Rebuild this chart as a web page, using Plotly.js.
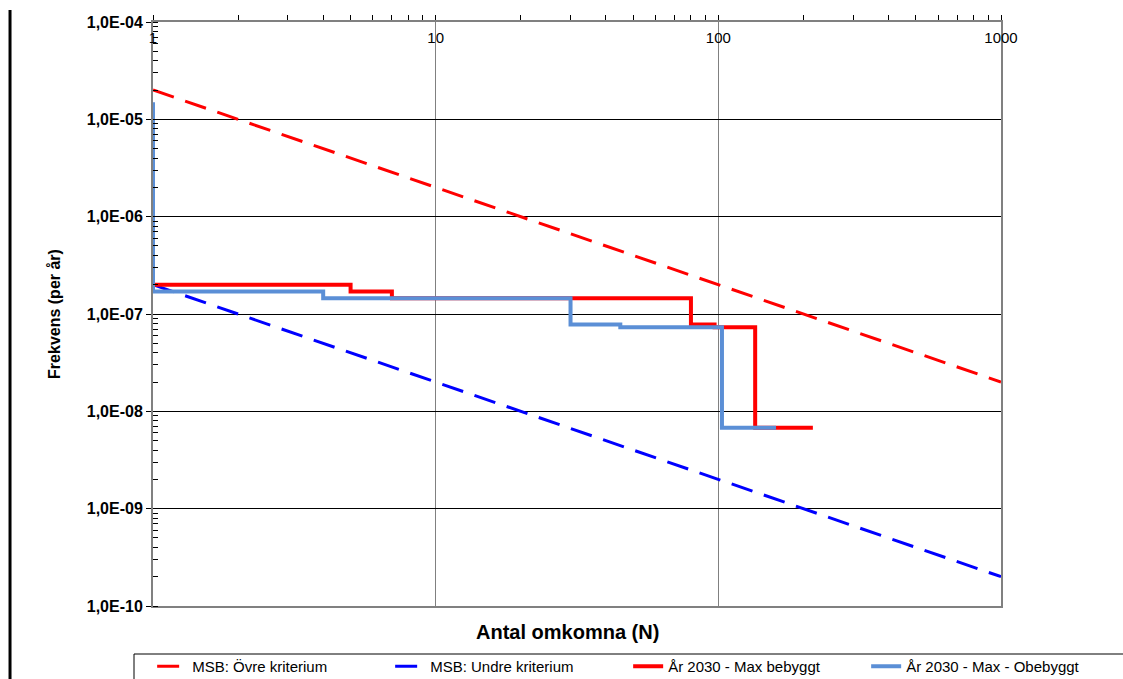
<!DOCTYPE html>
<html>
<head>
<meta charset="utf-8">
<script src="https://cdn.plot.ly/plotly-3.0.1.min.js"></script>
<style>html,body{margin:0;padding:0;background:#fff;}#chart{width:1123px;height:679px;}</style>
</head>
<body>
<div id="chart"></div>
<script>
// Criteria lines (MSB)
const critN = [1, 1000];
const upperF = [2e-5, 2e-8];
const lowerF = [2e-7, 2e-10];

// År 2030 - Max bebyggt (step)
const bebN = [1, 5, 7, 80, 97, 135, 216];
const bebF = [2.0e-7, 1.7e-7, 1.45e-7, 7.8e-8, 7.3e-8, 6.8e-9, 6.8e-9];

// År 2030 - Max - Obebyggt (step)
const obeN = [1, 1, 4, 30, 45, 103, 160];
const obeF = [1.5e-5, 1.7e-7, 1.45e-7, 7.8e-8, 7.3e-8, 6.8e-9, 6.8e-9];

// Tick labels
const xTickVals = [1, 10, 100, 1000];
const xTickText = ['1', '10', '100', '1000'];
const yTickVals = [1e-10, 1e-9, 1e-8, 1e-7, 1e-6, 1e-5, 1e-4];
const yTickText = ['1,0E-10', '1,0E-09', '1,0E-08', '1,0E-07', '1,0E-06', '1,0E-05', '1,0E-04'];

const FONT = 'Liberation Sans, Arial, sans-serif';

const traces = [
  {x: critN, y: upperF, name: 'MSB: Övre kriterium', mode: 'lines',
   line: {color: '#FF0000', width: 3, dash: '22px,12px'}},
  {x: critN, y: lowerF, name: 'MSB: Undre kriterium', mode: 'lines',
   line: {color: '#0000FF', width: 3, dash: '22px,12px'}},
  {x: bebN, y: bebF, name: 'År 2030 - Max bebyggt', mode: 'lines',
   line: {color: '#FF0000', width: 4, shape: 'hv'}},
  {x: obeN, y: obeF, name: 'År 2030 - Max - Obebyggt', mode: 'lines',
   line: {color: '#5B8FD6', width: 4, shape: 'hv'}}
];

const layout = {
  width: 1123, height: 679,
  margin: {l: 153, r: 122, t: 22, b: 73, autoexpand: false},
  paper_bgcolor: '#fff', plot_bgcolor: '#fff',
  font: {family: FONT, color: '#000', size: 14},
  showlegend: true,
  xaxis: {
    type: 'log', range: [0, 3], side: 'top',
    tickvals: xTickVals, ticktext: xTickText,
    ticks: 'outside', ticklen: 5, tickcolor: '#000',
    ticklabelstandoff: -34,
    tickfont: {family: FONT, size: 15, color: '#000'},
    showgrid: true, gridcolor: '#808080', gridwidth: 1.5,
    showline: true, mirror: true, linecolor: '#808080', linewidth: 2,
    minor: {dtick: 'D1', ticks: 'outside', ticklen: 5, tickcolor: '#000', showgrid: false},
    zeroline: false, fixedrange: true, automargin: false
  },
  yaxis: {
    type: 'log', range: [-10, -4],
    tickvals: yTickVals, ticktext: yTickText,
    ticks: 'outside', ticklen: 5, tickcolor: '#000',
    tickfont: {family: FONT, size: 16, color: '#000', weight: 'bold'},
    showgrid: true, gridcolor: '#000', gridwidth: 1,
    showline: true, mirror: true, linecolor: '#808080', linewidth: 2,
    minor: {dtick: 'D1', ticks: 'inside', ticklen: 5, tickcolor: '#000', showgrid: false},
    title: {text: 'Frekvens (per år)', font: {family: FONT, size: 16, weight: 'bold', color: '#000'}, standoff: 22},
    zeroline: false, fixedrange: true, automargin: false
  },
  legend: {
    orientation: 'h', x: -0.001, xanchor: 'left', y: -0.0753, yanchor: 'top',
    borderwidth: 0, bgcolor: 'rgba(0,0,0,0)',
    font: {family: FONT, size: 15, color: '#000'},
    entrywidth: 193, entrywidthmode: 'pixels'
  },
  annotations: [
    {text: 'Antal omkomna (N)', xref: 'paper', yref: 'paper', x: 0.489, y: -0.0445,
     xanchor: 'center', yanchor: 'middle', showarrow: false,
     font: {family: FONT, size: 20, weight: 'bold', color: '#000'}}
  ],
  shapes: [
    {type: 'line', xref: 'paper', yref: 'paper', x0: -0.1686, x1: -0.1686, y0: -0.14, y1: 1.0205,
     line: {color: '#000', width: 3}},
    {type: 'rect', xref: 'paper', yref: 'paper', x0: -0.0224, x1: 0.1533 + 1, y0: -0.0822, y1: -0.16,
     line: {color: '#000', width: 1}, fillcolor: 'rgba(0,0,0,0)', layer: 'below'}
  ]
};

Plotly.newPlot('chart', traces, layout, {displayModeBar: false, staticPlot: true});
</script>
</body>
</html>
